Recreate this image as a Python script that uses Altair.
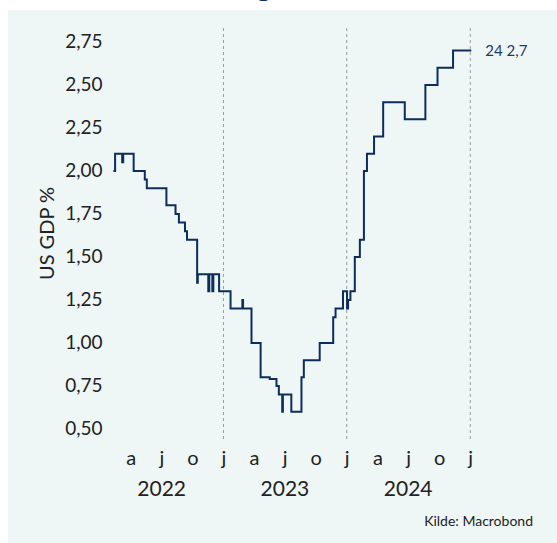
import altair as alt
import pandas as pd

# ---- data ----
dates = ["2022-02-09", "2022-02-14", "2022-03-07", "2022-03-10", "2022-04-10",
         "2022-05-13", "2022-05-19", "2022-07-16", "2022-08-12", "2022-08-22",
         "2022-09-09", "2022-09-15", "2022-10-15", "2022-10-17", "2022-11-17",
         "2022-11-20", "2022-11-29", "2022-12-02", "2022-12-19", "2023-01-22",
         "2023-02-26", "2023-02-28", "2023-03-25", "2023-04-21", "2023-05-18",
         "2023-06-07", "2023-06-14", "2023-06-24", "2023-06-26", "2023-07-21",
         "2023-08-20", "2023-08-27", "2023-10-13", "2023-11-22", "2023-11-29",
         "2023-12-21", "2024-01-02", "2024-01-05", "2024-01-12", "2024-01-25",
         "2024-02-09", "2024-02-21", "2024-03-01", "2024-03-22", "2024-04-18",
         "2024-06-21", "2024-08-21", "2024-09-26", "2024-11-11", "2025-01-04"]
values = [2.0, 2.1, 2.05, 2.1, 2.0,
          1.95, 1.9, 1.8, 1.75, 1.7,
          1.65, 1.6, 1.35, 1.4, 1.3,
          1.4, 1.3, 1.4, 1.3, 1.2,
          1.25, 1.2, 1.0, 0.8, 0.79,
          0.75, 0.7, 0.6, 0.7, 0.6,
          0.8, 0.9, 1.0, 1.15, 1.2,
          1.3, 1.2, 1.25, 1.3, 1.5,
          1.6, 2.0, 2.1, 2.2, 2.4,
          2.3, 2.5, 2.6, 2.7, 2.7]
quarter_ticks = [(2022, 4), (2022, 7), (2022, 10), (2023, 1), (2023, 4), (2023, 7),
                 (2023, 10), (2024, 1), (2024, 4), (2024, 7), (2024, 10), (2025, 1)]
year_breaks = ["2023-01-01", "2024-01-01", "2025-01-01"]
year_labels = ["2022", "2023", "2024"]
year_mids = ["2022-07-02", "2023-07-02", "2024-07-01"]
y_ticks = [0.5, 0.75, 1.0, 1.25, 1.5, 1.75, 2.0, 2.25, 2.5, 2.75]
end_label = "24 2,7"
source_text = "Kilde: Macrobond"
y_title = "US GDP %"

# ---- styling ----
FONT = "Lato"
NAVY = "#0d2d5c"
BG = "#eef6f6"
W, H = 367, 414
PAD = {"left": 108, "top": 28, "right": 82, "bottom": 101}

df = pd.DataFrame({"date": [d + "T00:00:00" for d in dates], "gdp": values})
breaks_df = pd.DataFrame({"date": [d + "T00:00:00" for d in year_breaks]})
years_df = pd.DataFrame({"date": [d + "T00:00:00" for d in year_mids], "label": year_labels})
end_df = df.tail(1).assign(label=end_label)
one = pd.DataFrame({"k": [0]})

xscale = alt.Scale(domain=[alt.DateTime(year=2022, month=1, date=24),
                           alt.DateTime(year=2025, month=1, date=15)])
yscale = alt.Scale(domain=[0.424, 2.831], nice=False, zero=False)

X = alt.X("date:T", scale=xscale, title=None,
          axis=alt.Axis(values=[alt.DateTime(year=y, month=m, date=1) for y, m in quarter_ticks],
                        labelExpr="['j','f','m','a','m','j','j','a','s','o','n','d'][month(datum.value)]",
                        domain=False, ticks=False, grid=False, labelFlush=False,
                        labelOverlap=False, labelFontSize=20, labelPadding=6,
                        labelColor="#222222", labelFont=FONT, zindex=1))
Y = alt.Y("gdp:Q", scale=yscale, title=y_title,
          axis=alt.Axis(values=y_ticks,
                        labelExpr="replace(format(datum.value, '.2f'), '.', ',')",
                        domain=False, ticks=False, grid=False, labelFontSize=19,
                        labelPadding=6, labelColor="#222222", labelFont=FONT,
                        titleFont=FONT, titleFontSize=20, titleFontWeight="normal",
                        titleColor="#222222", titleAngle=270, titleX=-61, titleY=205,
                        titleAlign="center", titleBaseline="middle", zindex=1))

bg = alt.Chart(one).mark_rect(color=BG).encode(
    x=alt.value(-100), x2=alt.value(470), y=alt.value(-18), y2=alt.value(520))

rules = alt.Chart(breaks_df).mark_rule(color="#9a9a9a", strokeDash=[3, 3], strokeWidth=1).encode(x=X)

line = alt.Chart(df).mark_line(interpolate="step-after", color=NAVY, strokeWidth=2).encode(x=X, y=Y)

endtxt = alt.Chart(end_df).mark_text(align="left", baseline="middle", dx=14, fontSize=15,
                                     font=FONT, color="#1f3a68").encode(
    x=X, y=Y, text="label:N")

years = alt.Chart(years_df).mark_text(baseline="middle", fontSize=21, font=FONT,
                                      color="#222222").encode(
    x=X, y=alt.value(H + 48), text="label:N")

source = alt.Chart(one).mark_text(align="right", baseline="middle", fontSize=14, font=FONT,
                                  color="#222222").encode(
    x=alt.value(425), y=alt.value(494), text=alt.value(source_text))

title_frag = alt.Chart(one).mark_text(align="center", baseline="alphabetic", fontSize=32,
                                      fontWeight="bold", font=FONT, color=NAVY).encode(
    x=alt.value(156), y=alt.value(-32), text=alt.value("g"))

chart = alt.layer(bg, rules, line, endtxt, years, source, title_frag).properties(
    width=W, height=H, padding=PAD, background="white",
    autosize=alt.AutoSizeParams(type="none")
).configure_view(stroke=None)

chart.save("out.html", embed_options={"renderer": "svg", "actions": False})
